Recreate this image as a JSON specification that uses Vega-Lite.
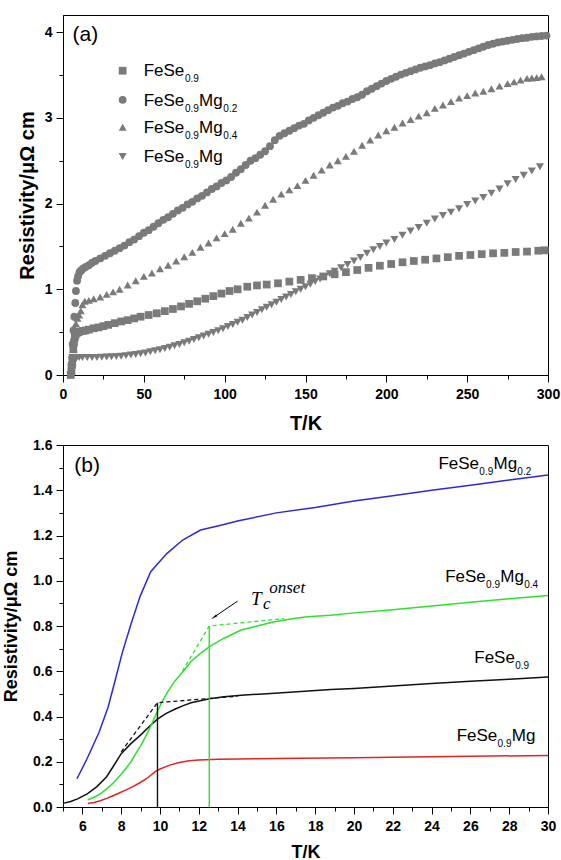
{
  "$schema": "https://vega.github.io/schema/vega-lite/v6.json",
  "padding": {"left": 2, "top": 14, "right": 10, "bottom": 0},
  "spacing": 3,
  "config": {
    "font": "Liberation Sans",
    "view": {"stroke": "black", "strokeWidth": 1},
    "axis": {
      "grid": false, "domainColor": "black", "domainWidth": 1, "tickColor": "black", "tickWidth": 1,
      "labelColor": "black", "titleColor": "black", "labelFont": "Liberation Sans", "labelFontWeight": "bold",
      "labelFontSize": 14, "titleFont": "Liberation Sans", "titleFontWeight": "bold", "labelPadding": 4,
      "labelFlush": false, "labelOverlap": false
    }
  },
  "datasets": {
    "pa": [
      {"s":"F","T":4.8,"r":0.0},{"s":"F","T":5.2,"r":0.05},{"s":"F","T":5.6,"r":0.12},{"s":"F","T":6.0,"r":0.2},{"s":"F","T":6.4,"r":0.3},{"s":"F","T":6.8,"r":0.38},{"s":"F","T":7.3,"r":0.44},{"s":"F","T":7.8,"r":0.47},{"s":"F","T":8.5,"r":0.49},{"s":"F","T":9.5,"r":0.5},{"s":"F","T":11,"r":0.51},{"s":"F","T":12.5,"r":0.515},{"s":"F","T":14,"r":0.52},{"s":"F","T":16,"r":0.53},{"s":"F","T":19,"r":0.545},{"s":"F","T":22,"r":0.555},{"s":"F","T":25,"r":0.57},{"s":"F","T":28,"r":0.585},{"s":"F","T":32,"r":0.605},{"s":"F","T":36,"r":0.625},{"s":"F","T":40,"r":0.64},{"s":"F","T":44,"r":0.66},{"s":"F","T":48,"r":0.68},{"s":"F","T":53,"r":0.7},{"s":"F","T":58,"r":0.72},{"s":"F","T":63,"r":0.745},{"s":"F","T":68,"r":0.77},{"s":"F","T":73,"r":0.8},{"s":"F","T":78,"r":0.83},{"s":"F","T":83,"r":0.86},{"s":"F","T":88,"r":0.89},{"s":"F","T":93,"r":0.92},{"s":"F","T":98,"r":0.95},{"s":"F","T":103,"r":0.98},{"s":"F","T":108,"r":1.0},{"s":"F","T":114,"r":1.03},{"s":"F","T":120,"r":1.045},{"s":"F","T":126,"r":1.055},{"s":"F","T":133,"r":1.07},{"s":"F","T":140,"r":1.09},{"s":"F","T":147,"r":1.11},{"s":"F","T":154,"r":1.13},{"s":"F","T":161,"r":1.15},{"s":"F","T":168,"r":1.175},{"s":"F","T":175,"r":1.2},{"s":"F","T":182,"r":1.225},{"s":"F","T":189,"r":1.25},{"s":"F","T":196,"r":1.275},{"s":"F","T":203,"r":1.295},{"s":"F","T":210,"r":1.315},{"s":"F","T":217,"r":1.33},{"s":"F","T":224,"r":1.345},{"s":"F","T":231,"r":1.36},{"s":"F","T":238,"r":1.375},{"s":"F","T":245,"r":1.39},{"s":"F","T":252,"r":1.4},{"s":"F","T":259,"r":1.41},{"s":"F","T":266,"r":1.42},{"s":"F","T":273,"r":1.425},{"s":"F","T":280,"r":1.435},{"s":"F","T":287,"r":1.44},{"s":"F","T":294,"r":1.45},{"s":"F","T":298,"r":1.455},
      {"s":"M2","T":5.2,"r":0.12},{"s":"M2","T":5.6,"r":0.2},{"s":"M2","T":6.0,"r":0.36},{"s":"M2","T":6.5,"r":0.52},{"s":"M2","T":7.0,"r":0.68},{"s":"M2","T":7.6,"r":0.84},{"s":"M2","T":8.0,"r":0.98},{"s":"M2","T":8.7,"r":1.1},{"s":"M2","T":9.3,"r":1.15},{"s":"M2","T":10.2,"r":1.2},{"s":"M2","T":11.2,"r":1.22},{"s":"M2","T":12.3,"r":1.24},{"s":"M2","T":14,"r":1.26},{"s":"M2","T":16,"r":1.28},{"s":"M2","T":18,"r":1.31},{"s":"M2","T":20,"r":1.33},{"s":"M2","T":23,"r":1.36},{"s":"M2","T":26,"r":1.39},{"s":"M2","T":29,"r":1.42},{"s":"M2","T":32,"r":1.45},{"s":"M2","T":35,"r":1.48},{"s":"M2","T":38,"r":1.51},{"s":"M2","T":41,"r":1.55},{"s":"M2","T":44,"r":1.58},{"s":"M2","T":47,"r":1.62},{"s":"M2","T":50,"r":1.66},{"s":"M2","T":53,"r":1.69},{"s":"M2","T":56,"r":1.73},{"s":"M2","T":59,"r":1.77},{"s":"M2","T":62,"r":1.81},{"s":"M2","T":65,"r":1.84},{"s":"M2","T":68,"r":1.88},{"s":"M2","T":71,"r":1.92},{"s":"M2","T":74,"r":1.95},{"s":"M2","T":77,"r":1.99},{"s":"M2","T":80,"r":2.02},{"s":"M2","T":83,"r":2.06},{"s":"M2","T":86,"r":2.09},{"s":"M2","T":89,"r":2.13},{"s":"M2","T":92,"r":2.17},{"s":"M2","T":95,"r":2.2},{"s":"M2","T":98,"r":2.24},{"s":"M2","T":101,"r":2.27},{"s":"M2","T":104,"r":2.31},{"s":"M2","T":107,"r":2.36},{"s":"M2","T":110,"r":2.4},{"s":"M2","T":113,"r":2.45},{"s":"M2","T":116,"r":2.5},{"s":"M2","T":119,"r":2.53},{"s":"M2","T":122,"r":2.57},{"s":"M2","T":125,"r":2.61},{"s":"M2","T":128,"r":2.67},{"s":"M2","T":131,"r":2.74},{"s":"M2","T":134,"r":2.79},{"s":"M2","T":137,"r":2.82},{"s":"M2","T":140,"r":2.85},{"s":"M2","T":143,"r":2.88},{"s":"M2","T":146,"r":2.91},{"s":"M2","T":149,"r":2.93},{"s":"M2","T":152,"r":2.97},{"s":"M2","T":155,"r":3.0},{"s":"M2","T":158,"r":3.03},{"s":"M2","T":161,"r":3.06},{"s":"M2","T":164,"r":3.09},{"s":"M2","T":167,"r":3.12},{"s":"M2","T":170,"r":3.14},{"s":"M2","T":173,"r":3.17},{"s":"M2","T":176,"r":3.19},{"s":"M2","T":179,"r":3.22},{"s":"M2","T":182,"r":3.24},{"s":"M2","T":185,"r":3.27},{"s":"M2","T":188,"r":3.31},{"s":"M2","T":191,"r":3.34},{"s":"M2","T":194,"r":3.37},{"s":"M2","T":197,"r":3.4},{"s":"M2","T":200,"r":3.43},{"s":"M2","T":203,"r":3.455},{"s":"M2","T":206,"r":3.48},{"s":"M2","T":209,"r":3.505},{"s":"M2","T":212,"r":3.525},{"s":"M2","T":215,"r":3.545},{"s":"M2","T":218,"r":3.565},{"s":"M2","T":221,"r":3.585},{"s":"M2","T":224,"r":3.6},{"s":"M2","T":227,"r":3.615},{"s":"M2","T":230,"r":3.635},{"s":"M2","T":233,"r":3.65},{"s":"M2","T":236,"r":3.67},{"s":"M2","T":239,"r":3.69},{"s":"M2","T":242,"r":3.71},{"s":"M2","T":245,"r":3.73},{"s":"M2","T":248,"r":3.75},{"s":"M2","T":251,"r":3.77},{"s":"M2","T":254,"r":3.79},{"s":"M2","T":257,"r":3.81},{"s":"M2","T":260,"r":3.83},{"s":"M2","T":263,"r":3.85},{"s":"M2","T":266,"r":3.865},{"s":"M2","T":269,"r":3.88},{"s":"M2","T":272,"r":3.89},{"s":"M2","T":275,"r":3.9},{"s":"M2","T":278,"r":3.91},{"s":"M2","T":281,"r":3.92},{"s":"M2","T":284,"r":3.93},{"s":"M2","T":287,"r":3.935},{"s":"M2","T":290,"r":3.945},{"s":"M2","T":293,"r":3.95},{"s":"M2","T":296,"r":3.955},{"s":"M2","T":299,"r":3.96},
      {"s":"M4","T":5.5,"r":0.05},{"s":"M4","T":6,"r":0.15},{"s":"M4","T":6.5,"r":0.3},{"s":"M4","T":7,"r":0.42},{"s":"M4","T":7.5,"r":0.52},{"s":"M4","T":8,"r":0.6},{"s":"M4","T":9,"r":0.66},{"s":"M4","T":10,"r":0.7},{"s":"M4","T":11,"r":0.75},{"s":"M4","T":12,"r":0.82},{"s":"M4","T":13.5,"r":0.86},{"s":"M4","T":16,"r":0.87},{"s":"M4","T":19,"r":0.89},{"s":"M4","T":23,"r":0.91},{"s":"M4","T":27,"r":0.94},{"s":"M4","T":31,"r":0.97},{"s":"M4","T":35,"r":1.0},{"s":"M4","T":40,"r":1.05},{"s":"M4","T":45,"r":1.1},{"s":"M4","T":50,"r":1.15},{"s":"M4","T":55,"r":1.19},{"s":"M4","T":60,"r":1.24},{"s":"M4","T":65,"r":1.28},{"s":"M4","T":70,"r":1.33},{"s":"M4","T":75,"r":1.38},{"s":"M4","T":80,"r":1.43},{"s":"M4","T":85,"r":1.49},{"s":"M4","T":90,"r":1.54},{"s":"M4","T":95,"r":1.6},{"s":"M4","T":100,"r":1.65},{"s":"M4","T":105,"r":1.7},{"s":"M4","T":110,"r":1.77},{"s":"M4","T":115,"r":1.83},{"s":"M4","T":120,"r":1.9},{"s":"M4","T":125,"r":1.98},{"s":"M4","T":130,"r":2.05},{"s":"M4","T":135,"r":2.11},{"s":"M4","T":140,"r":2.16},{"s":"M4","T":145,"r":2.21},{"s":"M4","T":150,"r":2.27},{"s":"M4","T":155,"r":2.33},{"s":"M4","T":160,"r":2.39},{"s":"M4","T":165,"r":2.45},{"s":"M4","T":170,"r":2.5},{"s":"M4","T":175,"r":2.55},{"s":"M4","T":180,"r":2.61},{"s":"M4","T":185,"r":2.68},{"s":"M4","T":190,"r":2.74},{"s":"M4","T":195,"r":2.8},{"s":"M4","T":200,"r":2.85},{"s":"M4","T":205,"r":2.89},{"s":"M4","T":210,"r":2.94},{"s":"M4","T":215,"r":2.98},{"s":"M4","T":220,"r":3.02},{"s":"M4","T":225,"r":3.06},{"s":"M4","T":230,"r":3.11},{"s":"M4","T":235,"r":3.15},{"s":"M4","T":240,"r":3.19},{"s":"M4","T":245,"r":3.23},{"s":"M4","T":250,"r":3.26},{"s":"M4","T":255,"r":3.29},{"s":"M4","T":260,"r":3.31},{"s":"M4","T":265,"r":3.34},{"s":"M4","T":270,"r":3.37},{"s":"M4","T":275,"r":3.4},{"s":"M4","T":279,"r":3.42},{"s":"M4","T":283,"r":3.44},{"s":"M4","T":287,"r":3.46},{"s":"M4","T":290,"r":3.465},{"s":"M4","T":293,"r":3.47},{"s":"M4","T":296,"r":3.48},
      {"s":"M","T":4.8,"r":0.0},{"s":"M","T":5.3,"r":0.04},{"s":"M","T":5.8,"r":0.09},{"s":"M","T":6.3,"r":0.14},{"s":"M","T":6.8,"r":0.18},{"s":"M","T":7.5,"r":0.2},{"s":"M","T":8.5,"r":0.205},{"s":"M","T":10,"r":0.205},{"s":"M","T":12,"r":0.205},{"s":"M","T":15,"r":0.205},{"s":"M","T":18,"r":0.205},{"s":"M","T":21,"r":0.205},{"s":"M","T":24,"r":0.207},{"s":"M","T":27,"r":0.21},{"s":"M","T":30,"r":0.212},{"s":"M","T":33,"r":0.216},{"s":"M","T":36,"r":0.22},{"s":"M","T":39,"r":0.226},{"s":"M","T":42,"r":0.233},{"s":"M","T":45,"r":0.24},{"s":"M","T":48,"r":0.248},{"s":"M","T":51,"r":0.258},{"s":"M","T":54,"r":0.27},{"s":"M","T":57,"r":0.282},{"s":"M","T":60,"r":0.295},{"s":"M","T":63,"r":0.31},{"s":"M","T":66,"r":0.325},{"s":"M","T":69,"r":0.34},{"s":"M","T":72,"r":0.357},{"s":"M","T":75,"r":0.375},{"s":"M","T":78,"r":0.395},{"s":"M","T":81,"r":0.415},{"s":"M","T":84,"r":0.435},{"s":"M","T":87,"r":0.455},{"s":"M","T":90,"r":0.475},{"s":"M","T":93,"r":0.495},{"s":"M","T":96,"r":0.515},{"s":"M","T":99,"r":0.54},{"s":"M","T":102,"r":0.565},{"s":"M","T":105,"r":0.59},{"s":"M","T":108,"r":0.615},{"s":"M","T":111,"r":0.64},{"s":"M","T":114,"r":0.67},{"s":"M","T":117,"r":0.7},{"s":"M","T":120,"r":0.73},{"s":"M","T":123,"r":0.76},{"s":"M","T":126,"r":0.79},{"s":"M","T":129,"r":0.82},{"s":"M","T":132,"r":0.85},{"s":"M","T":135,"r":0.88},{"s":"M","T":138,"r":0.91},{"s":"M","T":141,"r":0.94},{"s":"M","T":144,"r":0.97},{"s":"M","T":147,"r":1.0},{"s":"M","T":150,"r":1.03},{"s":"M","T":153,"r":1.06},{"s":"M","T":156,"r":1.09},{"s":"M","T":159,"r":1.12},{"s":"M","T":162,"r":1.15},{"s":"M","T":165,"r":1.18},{"s":"M","T":168,"r":1.21},{"s":"M","T":172,"r":1.25},{"s":"M","T":176,"r":1.29},{"s":"M","T":180,"r":1.33},{"s":"M","T":184,"r":1.37},{"s":"M","T":188,"r":1.42},{"s":"M","T":192,"r":1.46},{"s":"M","T":196,"r":1.5},{"s":"M","T":200,"r":1.54},{"s":"M","T":205,"r":1.58},{"s":"M","T":210,"r":1.63},{"s":"M","T":215,"r":1.68},{"s":"M","T":220,"r":1.72},{"s":"M","T":225,"r":1.77},{"s":"M","T":230,"r":1.82},{"s":"M","T":235,"r":1.86},{"s":"M","T":240,"r":1.9},{"s":"M","T":245,"r":1.94},{"s":"M","T":250,"r":1.99},{"s":"M","T":255,"r":2.03},{"s":"M","T":260,"r":2.07},{"s":"M","T":265,"r":2.12},{"s":"M","T":270,"r":2.17},{"s":"M","T":275,"r":2.23},{"s":"M","T":280,"r":2.28},{"s":"M","T":285,"r":2.33},{"s":"M","T":290,"r":2.38},{"s":"M","T":295,"r":2.43}
    ],
    "la": [
      {"s":"F","T":36.9,"r":3.55},{"s":"M2","T":36.9,"r":3.21},{"s":"M4","T":36.9,"r":2.89},{"s":"M","T":36.9,"r":2.55}
    ],
    "ta": [
      {"t":"(a)","k":"p","T":5.9,"r":3.897},
      {"t":"FeSe","k":"m","T":49.9,"r":3.483},{"t":"0.9","k":"s","T":75.4,"r":3.483},
      {"t":"FeSe","k":"m","T":49.9,"r":3.143},{"t":"0.9","k":"s","T":75.4,"r":3.143},{"t":"Mg","k":"m","T":84.2,"r":3.143},{"t":"0.2","k":"s","T":99.2,"r":3.143},
      {"t":"FeSe","k":"m","T":49.9,"r":2.823},{"t":"0.9","k":"s","T":75.4,"r":2.823},{"t":"Mg","k":"m","T":84.2,"r":2.823},{"t":"0.4","k":"s","T":99.2,"r":2.823},
      {"t":"FeSe","k":"m","T":49.9,"r":2.483},{"t":"0.9","k":"s","T":75.4,"r":2.483},{"t":"Mg","k":"m","T":84.2,"r":2.483}
    ],
    "pb": [
      {"s":"F","T":5.0,"r":0.016},{"s":"F","T":5.4,"r":0.024},{"s":"F","T":5.75,"r":0.036},{"s":"F","T":6.25,"r":0.058},{"s":"F","T":6.75,"r":0.09},{"s":"F","T":7.25,"r":0.134},{"s":"F","T":7.67,"r":0.19},{"s":"F","T":8.0,"r":0.236},{"s":"F","T":8.5,"r":0.28},{"s":"F","T":9.05,"r":0.322},{"s":"F","T":9.5,"r":0.36},{"s":"F","T":9.87,"r":0.388},{"s":"F","T":10.3,"r":0.413},{"s":"F","T":10.76,"r":0.432},{"s":"F","T":11.2,"r":0.448},{"s":"F","T":11.6,"r":0.461},{"s":"F","T":12.55,"r":0.478},{"s":"F","T":13.3,"r":0.487},{"s":"F","T":14.2,"r":0.494},{"s":"F","T":15.5,"r":0.501},{"s":"F","T":16.7,"r":0.507},{"s":"F","T":18.8,"r":0.519},{"s":"F","T":20,"r":0.524},{"s":"F","T":22,"r":0.535},{"s":"F","T":24,"r":0.546},{"s":"F","T":26,"r":0.556},{"s":"F","T":28,"r":0.565},{"s":"F","T":30,"r":0.575},
      {"s":"M2","T":5.72,"r":0.125},{"s":"M2","T":6.22,"r":0.21},{"s":"M2","T":6.86,"r":0.33},{"s":"M2","T":7.32,"r":0.44},{"s":"M2","T":7.69,"r":0.56},{"s":"M2","T":8.05,"r":0.68},{"s":"M2","T":8.51,"r":0.81},{"s":"M2","T":8.97,"r":0.93},{"s":"M2","T":9.52,"r":1.04},{"s":"M2","T":10.35,"r":1.12},{"s":"M2","T":11.17,"r":1.18},{"s":"M2","T":12.09,"r":1.224},{"s":"M2","T":13.19,"r":1.246},{"s":"M2","T":14.05,"r":1.265},{"s":"M2","T":16,"r":1.3},{"s":"M2","T":18,"r":1.324},{"s":"M2","T":20,"r":1.352},{"s":"M2","T":22,"r":1.376},{"s":"M2","T":24,"r":1.4},{"s":"M2","T":26,"r":1.422},{"s":"M2","T":28,"r":1.445},{"s":"M2","T":30,"r":1.467},
      {"s":"M4","T":6.28,"r":0.032},{"s":"M4","T":6.6,"r":0.043},{"s":"M4","T":6.92,"r":0.058},{"s":"M4","T":7.25,"r":0.08},{"s":"M4","T":7.58,"r":0.105},{"s":"M4","T":7.9,"r":0.135},{"s":"M4","T":8.25,"r":0.171},{"s":"M4","T":8.5,"r":0.2},{"s":"M4","T":8.75,"r":0.236},{"s":"M4","T":9.0,"r":0.27},{"s":"M4","T":9.25,"r":0.31},{"s":"M4","T":9.58,"r":0.368},{"s":"M4","T":9.8,"r":0.41},{"s":"M4","T":10.08,"r":0.461},{"s":"M4","T":10.4,"r":0.51},{"s":"M4","T":10.76,"r":0.556},{"s":"M4","T":11.2,"r":0.6},{"s":"M4","T":11.6,"r":0.643},{"s":"M4","T":12.1,"r":0.68},{"s":"M4","T":12.55,"r":0.709},{"s":"M4","T":13.3,"r":0.746},{"s":"M4","T":14.18,"r":0.782},{"s":"M4","T":15.0,"r":0.8},{"s":"M4","T":15.9,"r":0.819},{"s":"M4","T":16.8,"r":0.832},{"s":"M4","T":17.6,"r":0.841},{"s":"M4","T":18.8,"r":0.848},{"s":"M4","T":20,"r":0.858},{"s":"M4","T":22,"r":0.872},{"s":"M4","T":24,"r":0.888},{"s":"M4","T":26,"r":0.905},{"s":"M4","T":28,"r":0.92},{"s":"M4","T":30,"r":0.935},
      {"s":"M","T":6.28,"r":0.015},{"s":"M","T":6.6,"r":0.02},{"s":"M","T":6.92,"r":0.028},{"s":"M","T":7.25,"r":0.038},{"s":"M","T":7.58,"r":0.05},{"s":"M","T":7.9,"r":0.062},{"s":"M","T":8.25,"r":0.076},{"s":"M","T":8.6,"r":0.09},{"s":"M","T":8.92,"r":0.105},{"s":"M","T":9.3,"r":0.125},{"s":"M","T":9.75,"r":0.156},{"s":"M","T":10.0,"r":0.168},{"s":"M","T":10.5,"r":0.185},{"s":"M","T":11.0,"r":0.197},{"s":"M","T":11.5,"r":0.204},{"s":"M","T":12.0,"r":0.208},{"s":"M","T":13.0,"r":0.211},{"s":"M","T":14,"r":0.212},{"s":"M","T":16,"r":0.214},{"s":"M","T":20,"r":0.218},{"s":"M","T":25,"r":0.223},{"s":"M","T":30,"r":0.228}
    ],
    "gb": [
      {"g":"fd","s":"F","T":8.0,"r":0.244},{"g":"fd","s":"F","T":9.87,"r":0.461},{"g":"fd","s":"F","T":14.0,"r":0.49},
      {"g":"gd","s":"M4","T":11.15,"r":0.6},{"g":"gd","s":"M4","T":12.54,"r":0.8},{"g":"gd","s":"M4","T":16.4,"r":0.833}
    ],
    "vb": [
      {"g":"fv","s":"F","T":9.87,"r":0},{"g":"fv","s":"F","T":9.87,"r":0.461},
      {"g":"gv","s":"M4","T":12.54,"r":0},{"g":"gv","s":"M4","T":12.54,"r":0.8}
    ],
    "ar": [
      {"T":14.0,"r":0.91},{"T":12.85,"r":0.843}
    ],
    "ah": [
      {"T":12.82,"r":0.841}
    ],
    "tb": [
      {"t":"(b)","k":"p","T":5.58,"r":1.482},
      {"t":"FeSe","k":"m","T":24.35,"r":1.496},{"t":"0.9","k":"s","T":26.46,"r":1.496},{"t":"Mg","k":"m","T":27.19,"r":1.496},{"t":"0.2","k":"s","T":28.42,"r":1.496},
      {"t":"FeSe","k":"m","T":24.7,"r":0.996},{"t":"0.9","k":"s","T":26.81,"r":0.996},{"t":"Mg","k":"m","T":27.54,"r":0.996},{"t":"0.4","k":"s","T":28.77,"r":0.996},
      {"t":"FeSe","k":"m","T":26.2,"r":0.637},{"t":"0.9","k":"s","T":28.31,"r":0.637},
      {"t":"FeSe","k":"m","T":25.29,"r":0.292},{"t":"0.9","k":"s","T":27.4,"r":0.292},{"t":"Mg","k":"m","T":28.13,"r":0.292},
      {"t":"T","k":"tb","T":14.69,"r":0.893},{"t":"c","k":"ts","T":15.31,"r":0.876},{"t":"onset","k":"ts","T":15.63,"r":0.947}
    ]
  },
  "vconcat": [
    {
      "width": 485,
      "height": 360,
      "encoding": {
        "x": {"field": "T", "type": "quantitative", "scale": {"domain": [0, 300], "nice": false},
          "axis": {"title": "T/K", "titleFontSize": 20, "titlePadding": 12, "labelPadding": 5, "labelOverlap": false,
            "values": [0,25,50,75,100,125,150,175,200,225,250,275,300],
            "labelExpr": "datum.value % 50 == 0 ? '' + datum.value : ''",
            "tickSize": {"condition": {"test": "datum.value % 50 == 0", "value": 7}, "value": 4}}},
        "y": {"field": "r", "type": "quantitative", "scale": {"domain": [0, 4.2], "nice": false},
          "axis": {"title": "Resistivity/μΩ cm", "titleFontSize": 20, "titlePadding": 7, "labelOverlap": false,
            "values": [0,0.5,1,1.5,2,2.5,3,3.5,4],
            "labelExpr": "datum.value % 1 == 0 ? '' + datum.value : ''",
            "tickSize": {"condition": {"test": "datum.value % 1 == 0", "value": 7}, "value": 4}}}
      },
      "layer": [
        {
          "data": {"name": "pa"},
          "mark": {"type": "point", "filled": true, "color": "#7a7a7a", "opacity": 1},
          "encoding": {
            "shape": {"field": "s", "type": "nominal", "scale": {"domain": ["F","M2","M4","M"], "range": ["square","circle","triangle-up","triangle-down"]}, "legend": null},
            "size": {"field": "s", "type": "nominal", "scale": {"domain": ["F","M2","M4","M"], "range": [60, 65, 110, 110]}, "legend": null}
          }
        },
        {
          "data": {"name": "la"},
          "mark": {"type": "point", "filled": true, "color": "#7a7a7a", "opacity": 1},
          "encoding": {
            "shape": {"field": "s", "type": "nominal", "legend": null},
            "size": {"field": "s", "type": "nominal", "legend": null}
          }
        },
        {
          "data": {"name": "ta"},
          "transform": [{"filter": "datum.k == 'm'"}],
          "mark": {"type": "text", "align": "left", "baseline": "alphabetic", "fontSize": 17, "font": "Liberation Sans", "color": "black"},
          "encoding": {"text": {"field": "t"}}
        },
        {
          "data": {"name": "ta"},
          "transform": [{"filter": "datum.k == 's'"}],
          "mark": {"type": "text", "align": "left", "baseline": "alphabetic", "fontSize": 10, "dy": 6, "font": "Liberation Sans", "color": "black"},
          "encoding": {"text": {"field": "t"}}
        },
        {
          "data": {"name": "ta"},
          "transform": [{"filter": "datum.k == 'p'"}],
          "mark": {"type": "text", "align": "left", "baseline": "alphabetic", "fontSize": 21, "font": "Liberation Sans", "color": "black"},
          "encoding": {"text": {"field": "t"}}
        }
      ]
    },
    {
      "width": 485,
      "height": 362,
      "encoding": {
        "x": {"field": "T", "type": "quantitative", "scale": {"domain": [5, 30], "nice": false, "zero": false},
          "axis": {"title": "T/K", "titleFontSize": 18, "titlePadding": 10, "labelPadding": 5, "labelOverlap": false,
            "labels": true, "labelColor": "black", "labelFontSize": 14,
            "values": [5,6,7,8,9,10,11,12,13,14,15,16,17,18,19,20,21,22,23,24,25,26,27,28,29,30],
            "labelExpr": "datum.value % 2 == 0 ? '' + datum.value : ''",
            "tickSize": {"condition": {"test": "datum.value % 2 == 0", "value": 7}, "value": 4}}},
        "y": {"field": "r", "type": "quantitative", "scale": {"domain": [0, 1.6], "nice": false},
          "axis": {"title": "Resistivity/μΩ cm", "titleFontSize": 18, "titlePadding": 12, "labelOverlap": false,
            "values": [0,0.1,0.2,0.3,0.4,0.5,0.6,0.7,0.8,0.9,1.0,1.1,1.2,1.3,1.4,1.5,1.6],
            "labelExpr": "round(datum.value * 10) % 2 == 0 ? format(datum.value, '.1f') : ''",
            "tickSize": {"condition": {"test": "round(datum.value * 10) % 2 == 0", "value": 7}, "value": 4}}}
      },
      "layer": [
        {
          "data": {"name": "pb"},
          "mark": {"type": "line", "strokeWidth": 1.5},
          "encoding": {
            "color": {"field": "s", "type": "nominal", "scale": {"domain": ["F","M2","M4","M"], "range": ["#111111","#2a2ad6","#2ee02e","#e02424"]}, "legend": null}
          }
        },
        {
          "data": {"name": "gb"},
          "mark": {"type": "line", "strokeWidth": 1.3, "strokeDash": [4, 3]},
          "encoding": {
            "detail": {"field": "g"},
            "color": {"field": "s", "type": "nominal", "legend": null}
          }
        },
        {
          "data": {"name": "vb"},
          "mark": {"type": "line", "strokeWidth": 1.4},
          "encoding": {
            "detail": {"field": "g"},
            "color": {"field": "s", "type": "nominal", "legend": null}
          }
        },
        {
          "data": {"name": "ar"},
          "mark": {"type": "line", "strokeWidth": 1, "color": "black"}
        },
        {
          "data": {"name": "ah"},
          "mark": {"type": "point", "shape": "wedge", "filled": true, "size": 70, "angle": 236, "color": "black", "opacity": 1}
        },
        {
          "data": {"name": "tb"},
          "transform": [{"filter": "datum.k == 'm'"}],
          "mark": {"type": "text", "align": "left", "baseline": "alphabetic", "fontSize": 17, "font": "Liberation Sans", "color": "black"},
          "encoding": {"text": {"field": "t"}}
        },
        {
          "data": {"name": "tb"},
          "transform": [{"filter": "datum.k == 's'"}],
          "mark": {"type": "text", "align": "left", "baseline": "alphabetic", "fontSize": 10, "dy": 6, "font": "Liberation Sans", "color": "black"},
          "encoding": {"text": {"field": "t"}}
        },
        {
          "data": {"name": "tb"},
          "transform": [{"filter": "datum.k == 'p'"}],
          "mark": {"type": "text", "align": "left", "baseline": "alphabetic", "fontSize": 21, "font": "Liberation Sans", "color": "black"},
          "encoding": {"text": {"field": "t"}}
        },
        {
          "data": {"name": "tb"},
          "transform": [{"filter": "datum.k == 'tb'"}],
          "mark": {"type": "text", "align": "left", "baseline": "alphabetic", "fontSize": 19, "font": "Liberation Serif", "fontStyle": "italic", "color": "black"},
          "encoding": {"text": {"field": "t"}}
        },
        {
          "data": {"name": "tb"},
          "transform": [{"filter": "datum.k == 'ts'"}],
          "mark": {"type": "text", "align": "left", "baseline": "alphabetic", "fontSize": 17, "font": "Liberation Serif", "fontStyle": "italic", "color": "black"},
          "encoding": {"text": {"field": "t"}}
        }
      ]
    }
  ]
}
